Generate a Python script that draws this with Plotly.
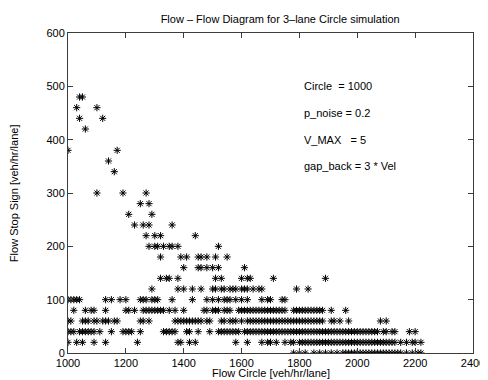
import plotly.graph_objects as go

# stop-sign flow levels (y) and the circle flows (x) seen on each level
stop_levels = [0, 20, 40, 60, 80, 100, 120, 140, 160, 180, 200, 220, 240, 260,
               280, 300, 340, 360, 380, 420, 440, 460, 480]

row_0 = [1780, 1800, 1820, 1850, 1870, 1890, 1910, 1930, 1950, 1960, 1970, 1980,
         1990, 2000, 2010, 2020, 2030, 2040, 2050, 2060, 2070, 2080, 2090, 2100,
         2110, 2120, 2130, 2140, 2150, 2170, 2190, 2210, 2220]
row_20 = [1000, 1030, 1050, 1090, 1130, 1240, 1380, 1390, 1420, 1440, 1580, 1620,
          1670, 1690, 1700, 1720, 1750, 1770, 1780, 1800, 1810, 1820, 1830, 1840,
          1850, 1860, 1870, 1880, 1890, 1900, 1910, 1920, 1930, 1940, 1950, 1960,
          1970, 1980, 1990, 2000, 2010, 2020, 2030, 2040, 2050, 2060, 2070, 2080,
          2090, 2100, 2110, 2120, 2130, 2150, 2170, 2190, 2200, 2220]
row_40 = [1000, 1010, 1020, 1040, 1050, 1060, 1070, 1080, 1090, 1110, 1150, 1190,
          1200, 1210, 1220, 1250, 1330, 1340, 1350, 1360, 1370, 1410, 1420, 1450,
          1490, 1520, 1530, 1540, 1550, 1560, 1570, 1580, 1590, 1610, 1620, 1630,
          1640, 1650, 1660, 1670, 1680, 1690, 1700, 1710, 1720, 1730, 1740, 1750,
          1760, 1770, 1780, 1790, 1800, 1810, 1820, 1830, 1840, 1850, 1860, 1870,
          1880, 1890, 1900, 1910, 1920, 1930, 1940, 1950, 1960, 1970, 1980, 1990,
          2000, 2010, 2020, 2030, 2040, 2050, 2060, 2070, 2090, 2100, 2120, 2130,
          2180, 2200]
row_60 = [1000, 1010, 1050, 1060, 1070, 1090, 1100, 1120, 1130, 1140, 1160, 1170,
          1250, 1260, 1280, 1370, 1380, 1390, 1400, 1410, 1420, 1430, 1440, 1450,
          1460, 1480, 1490, 1530, 1540, 1560, 1570, 1580, 1600, 1620, 1630, 1640,
          1650, 1660, 1670, 1680, 1690, 1700, 1710, 1720, 1730, 1740, 1750, 1760,
          1770, 1780, 1790, 1800, 1810, 1820, 1830, 1840, 1850, 1860, 1870, 1880,
          1910, 1920, 1940, 1970, 2080, 2100]
row_80 = [1020, 1060, 1080, 1090, 1130, 1200, 1210, 1230, 1260, 1270, 1280, 1290,
          1300, 1310, 1320, 1330, 1350, 1370, 1400, 1470, 1480, 1500, 1510, 1520,
          1540, 1550, 1560, 1590, 1600, 1610, 1620, 1630, 1640, 1650, 1660, 1670,
          1680, 1690, 1700, 1710, 1720, 1730, 1740, 1750, 1780, 1790, 1800, 1810,
          1820, 1830, 1840, 1850, 1860, 1870, 1880, 1910, 1960]
row_100 = [1000, 1010, 1020, 1030, 1040, 1130, 1150, 1180, 1200, 1250, 1260, 1270,
           1290, 1300, 1310, 1360, 1430, 1480, 1500, 1520, 1540, 1550, 1560, 1580,
           1600, 1620, 1670, 1690, 1700, 1740, 1750]
row_120 = [1290, 1380, 1400, 1430, 1460, 1500, 1510, 1530, 1540, 1560, 1570, 1580,
           1600, 1610, 1620, 1640, 1660, 1670, 1790, 1830]
row_140 = [1320, 1340, 1350, 1380, 1510, 1530, 1600, 1620, 1630, 1710, 1890]
row_160 = [1400, 1450, 1460, 1480, 1500, 1520, 1610]
row_180 = [1320, 1390, 1410, 1450, 1460, 1480, 1510, 1550]
row_200 = [1280, 1300, 1310, 1330, 1350, 1360, 1380, 1520]
row_220 = [1270, 1300, 1320, 1440]
row_240 = [1230, 1260, 1280, 1360]
row_260 = [1210, 1290]
row_280 = [1250, 1280]
row_300 = [1100, 1190, 1270]
row_340 = [1160]
row_360 = [1140]
row_380 = [1000, 1170]
row_420 = [1060]
row_440 = [1040, 1120]
row_460 = [1030, 1100]
row_480 = [1040, 1050]

rows = [row_0, row_20, row_40, row_60, row_80, row_100, row_120, row_140, row_160,
        row_180, row_200, row_220, row_240, row_260, row_280, row_300, row_340,
        row_360, row_380, row_420, row_440, row_460, row_480]

params = ["Circle  = 1000", "p_noise = 0.2", "V_MAX   = 5", "gap_back = 3 * Vel"]
param_y = [500, 450, 400, 350]

x_vals, y_vals = [], []
for level, xs in zip(stop_levels, rows):
    x_vals += xs
    y_vals += [level] * len(xs)

FONT = "Liberation Sans, Arial, Helvetica, sans-serif"

fig = go.Figure()
fig.add_trace(go.Scatter(
    x=x_vals, y=y_vals, mode="markers",
    marker=dict(symbol="asterisk-open", size=6, color="black",
                line=dict(color="black", width=1)),
    showlegend=False, hoverinfo="x+y"
))

for txt, yy in zip(params, param_y):
    fig.add_annotation(x=1810, y=yy, xref="x", yref="y", text=txt.replace(" ", "&nbsp;"),
                       showarrow=False, xanchor="left", yanchor="middle",
                       font=dict(size=11, family=FONT, color="black"))

# axis titles placed by hand, like the matlab layout
fig.add_annotation(x=0.5, y=-0.063, xref="paper", yref="paper",
                   text="Flow Circle [veh/hr/lane]", showarrow=False,
                   xanchor="center", yanchor="middle",
                   font=dict(size=11, family=FONT, color="black"))
fig.add_annotation(x=-0.133, y=0.5, xref="paper", yref="paper",
                   text="Flow Stop Sign [veh/hr/lane]", showarrow=False, textangle=-90,
                   xanchor="center", yanchor="middle",
                   font=dict(size=11, family=FONT, color="black"))

axis_style = dict(
    showgrid=False, zeroline=False, showline=True, linecolor="#3c3c3c", linewidth=1,
    mirror="ticks", ticks="inside", ticklen=5, tickcolor="#3c3c3c", automargin=False,
    tickfont=dict(size=11, family=FONT, color="black"),
)

# the page body adds an 8px offset, so the figure is 8px smaller on each side
fig.update_layout(
    width=480, height=372,
    paper_bgcolor="white", plot_bgcolor="white",
    margin=dict(l=60, r=15, t=25, b=27),
    font=dict(family=FONT, size=11, color="black"),
    title=dict(text="Flow – Flow Diagram for 3–lane Circle simulation",
               x=0.567, xanchor="center", y=0.97, yanchor="middle",
               font=dict(size=11, family=FONT, color="black")),
    xaxis=dict(range=[1000, 2400], tickvals=[1000, 1200, 1400, 1600, 1800, 2000, 2200, 2400],
               ticklabelstandoff=0, **axis_style),
    yaxis=dict(range=[0, 600], tickvals=[0, 100, 200, 300, 400, 500, 600],
               **axis_style),
)

fig.write_html("out.html")
